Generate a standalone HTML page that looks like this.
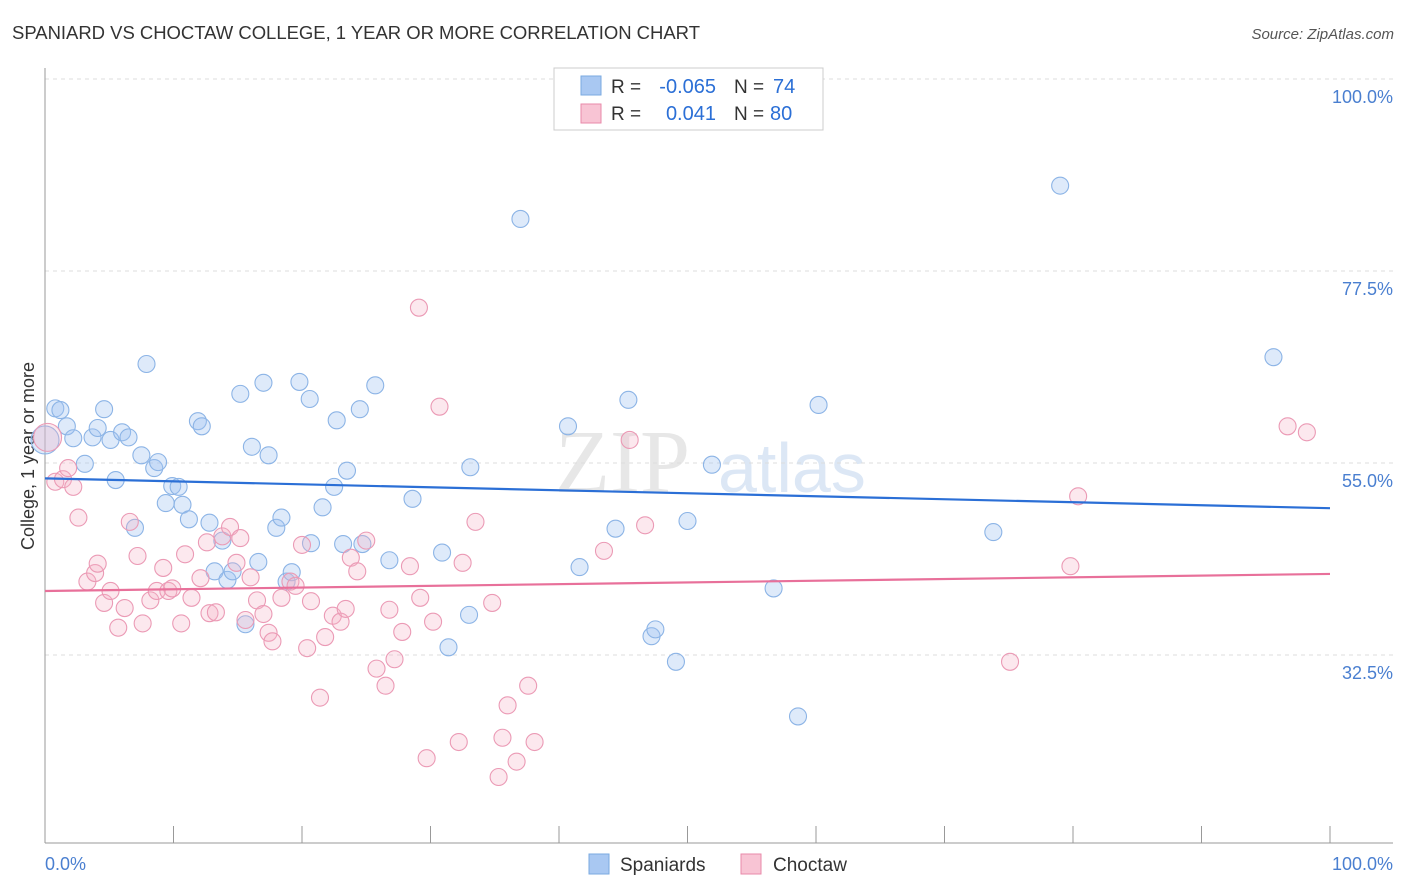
<!DOCTYPE html>
<html><head><meta charset="utf-8"><style>
body{margin:0;background:#fff;font-family:"Liberation Sans",sans-serif}
svg{display:block}
</style></head><body>
<svg id="c" width="1406" height="892" xmlns="http://www.w3.org/2000/svg">
<text x="12" y="39" font-size="18.5" fill="#333" textLength="688">SPANIARD VS CHOCTAW COLLEGE, 1 YEAR OR MORE CORRELATION CHART</text>
<text x="1394" y="39" font-size="15" fill="#555" text-anchor="end" font-style="italic">Source: ZipAtlas.com</text>
<text x="34" y="456" font-size="18" fill="#333" text-anchor="middle" transform="rotate(-90 34 456)">College, 1 year or more</text>
<text x="555" y="492" font-size="90" fill="#d8d8d8" font-family="Liberation Serif" opacity="0.6">ZIP</text>
<text x="718" y="492" font-size="70" fill="#c5d8f0" opacity="0.6">atlas</text>
<g id="grid"></g><g id="marks"></g>
<g>
<rect x="554" y="68" width="269" height="62" fill="#fff" stroke="#ccc"/>
<rect x="581" y="76" width="20" height="19" fill="#a9c8f2" stroke="#7aaae0"/>
<rect x="581" y="104" width="20" height="19" fill="#f8c4d4" stroke="#e88aaa"/>
<text x="611" y="93" font-size="19" fill="#333">R =</text>
<text x="716" y="93" font-size="20" fill="#2b6fd6" text-anchor="end">-0.065</text>
<text x="734" y="93" font-size="19" fill="#333">N =</text>
<text x="773" y="93" font-size="20" fill="#2b6fd6">74</text>
<text x="611" y="120" font-size="19" fill="#333">R =</text>
<text x="716" y="120" font-size="20" fill="#2b6fd6" text-anchor="end">0.041</text>
<text x="734" y="120" font-size="19" fill="#333">N =</text>
<text x="770" y="120" font-size="20" fill="#2b6fd6">80</text>
</g>
<g>
<rect x="589" y="854" width="20" height="20" fill="#a9c8f2" stroke="#7aaae0"/>
<text x="620" y="871" font-size="19" fill="#333">Spaniards</text>
<rect x="741" y="854" width="20" height="20" fill="#f8c4d4" stroke="#e88aaa"/>
<text x="773" y="871" font-size="19" fill="#333">Choctaw</text>
</g>
<text x="45" y="870" font-size="18" fill="#4a7fd0">0.0%</text>
<text x="1393" y="870" font-size="18" fill="#4a7fd0" text-anchor="end">100.0%</text>
</svg>
<script>
const yTicks=[100,77.5,55,32.5];
const yTickLabels=["100.0%","77.5%","55.0%","32.5%"];
const xTicks=[0,10,20,30,40,50,60,70,80,90,100];
const blueX=[0.8,1.2,1.7,2.2,3.1,3.7,4.1,4.6,5.1,5.5,6.0,6.5,7.0,7.5,7.9,8.5,8.8,9.4,9.9,10.4,10.7,11.2,11.9,12.2,12.8,13.2,13.8,14.2,14.6,15.2,15.6,16.1,16.6,17.0,17.4,18.0,18.4,18.8,19.2,19.8,20.7,20.6,21.6,22.5,22.7,23.2,23.5,24.5,24.7,25.7,26.8,28.6,30.9,31.4,33.1,33.0,37.0,40.7,41.6,44.4,45.4,47.2,47.5,49.1,50.0,51.9,56.7,58.6,60.2,73.8,79.0,95.6,0.0];
const blueY=[61.4,61.2,59.3,57.9,54.9,58.0,59.1,61.3,57.7,53.0,58.6,58.0,47.4,55.9,66.6,54.4,55.1,50.3,52.3,52.2,50.1,48.4,59.9,59.3,48.0,42.3,45.9,41.3,42.3,63.1,36.1,56.9,43.4,64.4,55.9,47.4,48.6,41.1,42.2,64.5,45.6,62.5,49.8,52.2,60.0,45.5,54.1,61.3,45.5,64.1,43.6,50.8,44.5,33.4,54.5,37.2,83.6,59.3,42.8,47.3,62.4,34.7,35.5,31.7,48.2,54.8,40.3,25.3,61.8,46.9,87.5,67.4,57.7];
const pinkX=[0.2,0.8,1.4,1.8,2.2,2.6,3.3,3.9,4.1,4.6,5.1,5.7,6.2,6.6,7.2,7.6,8.2,8.7,9.2,9.6,9.9,10.6,10.9,11.4,12.1,12.8,12.6,13.3,13.8,14.4,14.9,15.2,15.6,16.0,16.5,17.0,17.4,17.7,18.4,19.1,19.5,20.0,20.4,20.7,21.4,21.8,22.4,23.0,23.4,23.8,24.3,25.0,25.8,26.5,26.8,27.2,27.8,28.4,29.2,29.7,30.2,30.7,32.2,32.5,33.5,34.8,35.3,35.6,36.0,36.7,37.6,38.1,43.5,45.5,46.7,75.1,79.8,80.4,96.7,98.2,29.1];
const pinkY=[58.0,52.8,53.1,54.4,52.2,48.6,41.1,42.1,43.2,38.6,40.0,35.7,38.0,48.1,44.1,36.2,38.9,40.0,42.7,40.0,40.3,36.2,44.3,39.2,41.5,37.4,45.7,37.5,46.4,47.5,43.3,46.2,36.6,41.6,38.9,37.3,35.1,34.1,39.2,41.1,40.6,45.4,33.3,38.8,27.5,34.6,37.1,36.4,37.9,43.9,42.3,45.9,30.9,28.9,37.8,32.0,35.2,42.9,39.2,20.4,36.4,61.6,22.3,43.3,48.1,38.6,18.2,22.8,26.6,20.0,28.9,22.3,44.7,57.7,47.7,31.7,42.9,51.1,59.3,58.6,73.2];
const blueTrend=[53.2,49.7];
const pinkTrend=[40.0,42.0];
const NS="http://www.w3.org/2000/svg";
const sx=v=>45+v*12.85, sy=v=>79+(100-v)*8.533;
function mk(t,a,p){const e=document.createElementNS(NS,t);for(const k in a)e.setAttribute(k,a[k]);p.appendChild(e);return e;}
const grid=document.getElementById('grid'), marks=document.getElementById('marks');
yTicks.forEach((t,i)=>{
  const l=mk('line',{x1:45,x2:1393,y1:sy(t),y2:sy(t),stroke:'#ddd','stroke-dasharray':'4,4'},grid);
  
  
  const tx=mk('text',{x:1393,y:sy(t)+24,'font-size':18,fill:'#4a7fd0','text-anchor':'end'},grid);
  tx.textContent=yTickLabels[i];
  
  
});
const ax=mk('line',{x1:45,x2:45,y1:68,y2:843,stroke:'#999'},grid);


const bx=mk('line',{x1:45,x2:1393,y1:843,y2:843,stroke:'#999'},grid);


xTicks.forEach(t=>{
  const l=mk('line',{x1:sx(t),x2:sx(t),y1:826,y2:843,stroke:'#999'},grid);
  
  
});
function pts(X,Y,fill,stroke,name){
  X.forEach((x,i)=>{
    const big=(x<0.5);
    const c=mk('circle',{cx:sx(x),cy:sy(Y[i]),r:big?14:8.5,fill:fill,stroke:stroke,'stroke-width':1.1},marks);
    
    
  });
}
pts(blueX,blueY,'rgba(160,196,240,0.35)','#8cb4e6','spaniard-point');
pts(pinkX,pinkY,'rgba(245,180,200,0.3)','#eb9ab5','choctaw-point');
const bl=mk('line',{x1:sx(0),x2:sx(100),y1:sy(blueTrend[0]),y2:sy(blueTrend[1]),stroke:'#2b6fd6','stroke-width':2.2},marks);


const pl=mk('line',{x1:sx(0),x2:sx(100),y1:sy(pinkTrend[0]),y2:sy(pinkTrend[1]),stroke:'#e8709a','stroke-width':2.2},marks);


</script>
</body></html>
